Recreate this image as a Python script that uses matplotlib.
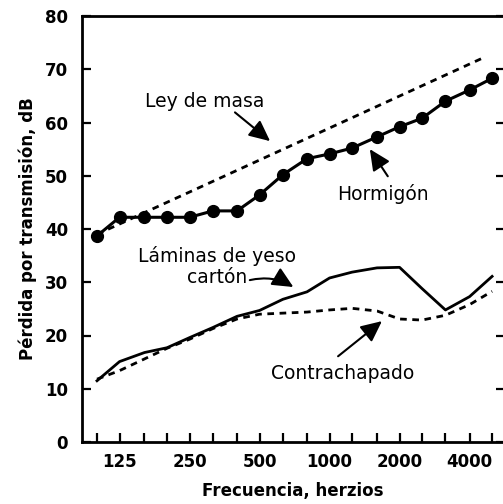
import matplotlib
matplotlib.use("Agg")
import matplotlib.pyplot as plt
import numpy as np

# 1/3-octave band centre frequencies (Hz)
freqs = [100, 125, 160, 200, 250, 315, 400, 500, 630, 800,
         1000, 1250, 1600, 2000, 2500, 3150, 4000, 5000]

hormigon_db = [38.7, 42.2, 42.2, 42.2, 42.2, 43.4, 43.4, 46.4, 50.2,
               53.2, 54.1, 55.2, 57.3, 59.2, 60.8, 64.0, 66.1, 68.3]

yeso_db = [11.5, 15.1, 16.8, 17.7, 19.6, 21.5, 23.6, 24.7, 26.8,
           28.2, 30.8, 31.9, 32.7, 32.8, 28.8, 24.8, 27.3, 31.1]

contrachapado_db = [11.8, 13.4, 15.6, 17.6, 19.3, 21.3, 23.1, 24.0, 24.2,
                    24.4, 24.8, 25.1, 24.6, 23.1, 22.9, 23.8, 25.8, 28.3]

masa_freqs = [100, 4500]
masa_db = [39.0, 72.0]

xtick_labels = {125: "125", 250: "250", 500: "500",
                1000: "1000", 2000: "2000", 4000: "4000"}
yticks = [0, 10, 20, 30, 40, 50, 60, 70, 80]

plt.rcParams['font.family'] = ['DejaVu Sans']

fig = plt.figure(figsize=(5.03, 5.04), dpi=100)
ax = fig.add_axes([82 / 503, 1 - 442 / 504, (504.5 - 82) / 503, (442 - 16) / 504])

ax.set_xscale('log')
ax.set_xlim(86.2, 5653)
ax.set_ylim(0, 80)

ax.plot(masa_freqs, masa_db, color='black', lw=2.0, ls=(0, (2.4, 2.0)))
ax.plot(freqs, hormigon_db, color='black', lw=2.2, marker='o', markersize=8.5)
ax.plot(freqs, yeso_db, color='black', lw=2.0, solid_joinstyle='round')
ax.plot(freqs, contrachapado_db, color='black', lw=2.0, ls=(0, (2.4, 2.0)))

ax.set_xticks(freqs)
ax.set_xticklabels([xtick_labels.get(f, "") for f in freqs])
ax.xaxis.set_minor_locator(matplotlib.ticker.NullLocator())
ax.set_yticks(yticks)
ax.set_yticklabels([str(v) for v in yticks])

for lab in ax.get_xticklabels() + ax.get_yticklabels():
    lab.set_fontweight('bold')
    lab.set_fontsize(12)

ax.tick_params(axis='both', direction='in', length=6.5, width=1.6, color='black')
ax.tick_params(axis='y', right=True, pad=10)
ax.tick_params(axis='x', pad=8)

for s in ['left', 'bottom', 'top', 'right']:
    ax.spines[s].set_linewidth(2.0)

ax.set_xlabel("Frecuencia, herzios", fontsize=12, fontweight='bold', labelpad=8)
ax.set_ylabel("Pérdida por transmisión, dB", fontsize=12, fontweight='bold', labelpad=6)

arrow = dict(arrowstyle='-|>,head_length=0.85,head_width=0.4', color='black',
             lw=1.5, mutation_scale=15, shrinkA=0, shrinkB=0)

ax.text(291, 64.0, "Ley de masa", fontsize=13.5, ha='center', va='center')
ax.annotate("", xy=(555, 56.5), xytext=(392, 61.9), arrowprops=arrow)

ax.text(1690, 46.5, "Hormigón", fontsize=13.5, ha='center', va='center')
ax.annotate("", xy=(1490, 55.0), xytext=(1780, 49.9), arrowprops=arrow)

ax.text(328, 33.0, "Láminas de yeso\ncartón", fontsize=13.5, ha='center', va='center',
        linespacing=1.15)
ax.annotate("", xy=(699, 29.1), xytext=(454, 30.4),
            arrowprops=dict(arrow, connectionstyle='arc3,rad=-0.2'))

ax.text(1140, 12.8, "Contrachapado", fontsize=13.5, ha='center', va='center')
ax.annotate("", xy=(1680, 22.7), xytext=(1088, 16.1), arrowprops=arrow)

fig.savefig("out.png", dpi=100)
